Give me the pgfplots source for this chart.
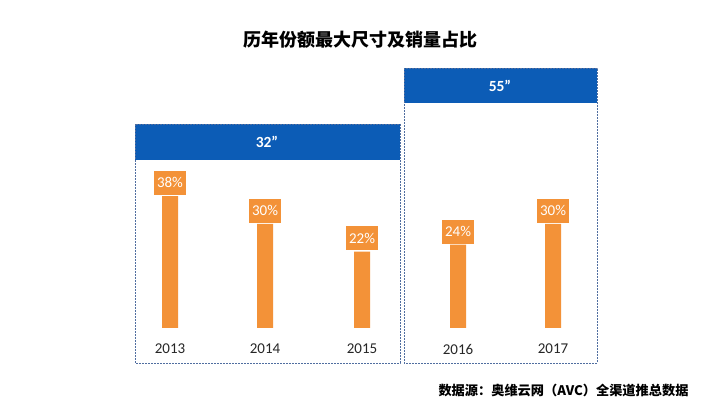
\documentclass[border=0pt]{standalone}
\usepackage{pgfplots}
\pgfplotsset{compat=1.18}
\usepackage{fontspec}
\setmainfont{Carlito}
\newfontfamily\cjk{Noto Sans CJK SC}
\definecolor{barorange}{RGB}{243,146,56}
\definecolor{bandblue}{RGB}{12,92,182}
\definecolor{dashc}{RGB}{80,110,160}
\begin{document}
\begin{tikzpicture}
\begin{axis}[name=px, scale only axis, width=720pt, height=405pt,
  xmin=0, xmax=720, ymin=0, ymax=405, y dir=reverse, hide axis, clip=false]
  \path (axis cs:0,0) rectangle (axis cs:720,405);
  % left group box
  \fill[bandblue] (axis cs:135,124) rectangle (axis cs:400,160);
  \draw[dashc, dash pattern=on 1.8pt off 1.2pt, line width=0.8pt] (axis cs:135,124) rectangle (axis cs:400,363);
  \node[text=white, font=\fontsize{15.5}{15.5}\selectfont\bfseries] at (axis cs:267,142) {32”};
  % right group box
  \fill[bandblue] (axis cs:404,68) rectangle (axis cs:597,103);
  \draw[dashc, dash pattern=on 1.8pt off 1.2pt, line width=0.8pt] (axis cs:404,68) rectangle (axis cs:597,363);
  \node[text=white, font=\fontsize{15.5}{15.5}\selectfont\bfseries] at (axis cs:500,86) {55”};
  % title
  \node[font=\cjk\bfseries\fontsize{18}{18}\selectfont] at (axis cs:360,40) {历年份额最大尺寸及销量占比};
  % year labels
  \node[font=\fontsize{15}{15}\selectfont, text=black!85] at (axis cs:170,349) {2013};
  \node[font=\fontsize{15}{15}\selectfont, text=black!85] at (axis cs:265,349) {2014};
  \node[font=\fontsize{15}{15}\selectfont, text=black!85] at (axis cs:362,349) {2015};
  \node[font=\fontsize{15}{15}\selectfont, text=black!85] at (axis cs:458,349) {2016};
  \node[font=\fontsize{15}{15}\selectfont, text=black!85] at (axis cs:553,349) {2017};
  % source
  \node[anchor=east, font=\cjk\bfseries\fontsize{13.2}{13.2}\selectfont] at (axis cs:692,390) {数据源：奥维云网（AVC）全渠道推总数据};
\end{axis}
\begin{axis}[scale only axis, width=720pt, height=405pt,
  xmin=0, xmax=720, ymin=-22.19, ymax=94.52, hide axis, clip=false,
  ybar, bar width=16pt,
  /pgf/number format/assume math mode=true,
  nodes near coords={\pgfmathprintnumber{\pgfplotspointmeta}\%},
  every node near coord/.append style={fill=barorange, text=white,
    minimum width=32pt, minimum height=24pt, inner sep=0pt,
    font=\fontsize{15}{15}\selectfont, anchor=south, yshift=1pt}]
  \addplot[fill=barorange, draw=none] coordinates {(170,38) (265,30) (362,22) (458,24) (553,30)};
\end{axis}
\end{tikzpicture}
\end{document}
